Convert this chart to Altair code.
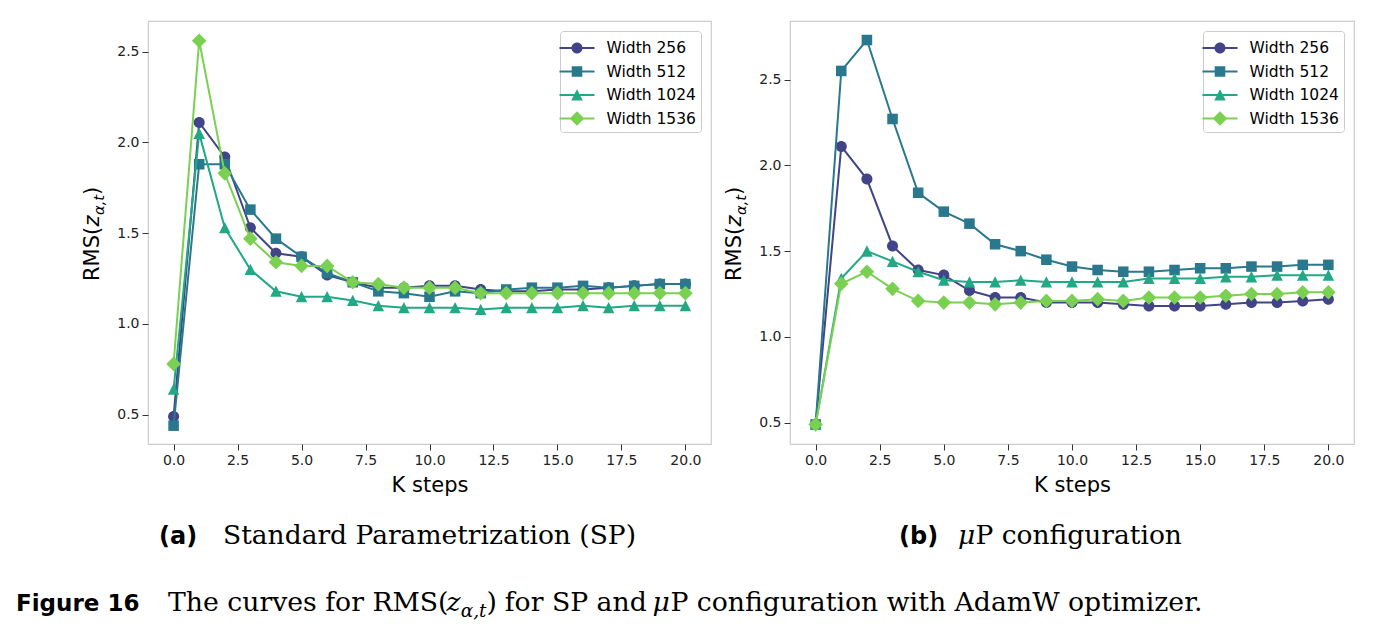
import altair as alt
import pandas as pd

# ---------------- data ----------------
steps = list(range(21))
series_names = ["Width 256", "Width 512", "Width 1024", "Width 1536"]
series_colors = ["#414487", "#2a788e", "#22a884", "#7ad151"]

# (a) Standard Parametrization (SP)
sp_256 = [0.49, 2.11, 1.92, 1.53, 1.39, 1.37, 1.27, 1.23, 1.20, 1.20, 1.21,
          1.21, 1.19, 1.18, 1.18, 1.19, 1.19, 1.20, 1.21, 1.22, 1.22]
sp_512 = [0.44, 1.88, 1.88, 1.63, 1.47, 1.37, 1.28, 1.23, 1.18, 1.17, 1.15,
          1.18, 1.17, 1.19, 1.20, 1.20, 1.21, 1.20, 1.21, 1.22, 1.22]
sp_1024 = [0.64, 2.05, 1.53, 1.30, 1.18, 1.15, 1.15, 1.13, 1.10, 1.09, 1.09,
           1.09, 1.08, 1.09, 1.09, 1.09, 1.10, 1.09, 1.10, 1.10, 1.10]
sp_1536 = [0.78, 2.56, 1.83, 1.47, 1.34, 1.32, 1.32, 1.23, 1.22, 1.20, 1.20,
           1.20, 1.17, 1.17, 1.17, 1.17, 1.17, 1.17, 1.17, 1.17, 1.17]

# (b) muP configuration
mup_256 = [0.49, 2.11, 1.92, 1.53, 1.39, 1.36, 1.27, 1.23, 1.23, 1.20, 1.20,
           1.20, 1.19, 1.18, 1.18, 1.18, 1.19, 1.20, 1.20, 1.21, 1.22]
mup_512 = [0.49, 2.55, 2.73, 2.27, 1.84, 1.73, 1.66, 1.54, 1.50, 1.45, 1.41,
           1.39, 1.38, 1.38, 1.39, 1.40, 1.40, 1.41, 1.41, 1.42, 1.42]
mup_1024 = [0.49, 1.34, 1.50, 1.44, 1.38, 1.33, 1.32, 1.32, 1.33, 1.32, 1.32,
            1.32, 1.32, 1.34, 1.34, 1.34, 1.35, 1.35, 1.36, 1.36, 1.36]
mup_1536 = [0.49, 1.31, 1.38, 1.28, 1.21, 1.20, 1.20, 1.19, 1.20, 1.21, 1.21,
            1.22, 1.21, 1.23, 1.23, 1.23, 1.24, 1.25, 1.25, 1.26, 1.26]

x_tick_values = [0, 2.5, 5, 7.5, 10, 12.5, 15, 17.5, 20]
y_tick_values = [0.5, 1.0, 1.5, 2.0, 2.5]


def long_table(series_lists):
    rows = []
    for name, vals in zip(series_names, series_lists):
        for k, v in zip(steps, vals):
            rows.append({"step": k, "rms": v, "series": name})
    return pd.DataFrame(rows)


sp_df = long_table([sp_256, sp_512, sp_1024, sp_1536])
mup_df = long_table([mup_256, mup_512, mup_1024, mup_1536])

# ---------------- marker shapes (unit = sqrt(size)/2 px) ----------------
CIRCLE = ("M0.46,0C0.46,0.254,0.254,0.46,0,0.46C-0.254,0.46,-0.46,0.254,-0.46,0"
          "C-0.46,-0.254,-0.254,-0.46,0,-0.46C0.254,-0.46,0.46,-0.254,0.46,0Z")
SQUARE = "M-0.44,-0.44H0.44V0.44H-0.44Z"
TRIANGLE = "M0,-0.48L0.48,0.46L-0.48,0.46Z"
DIAMOND = "M0,-0.61L0.61,0L0,0.61L-0.61,0Z"
marker_paths = [CIRCLE, SQUARE, TRIANGLE, DIAMOND]
BAR = "M-1.46,-0.085H1.46V0.085H-1.46Z"
legend_paths = [BAR + p for p in marker_paths]
SYM = 576

PW_L, PW_R, PH = 563, 564, 423


def txt(x, y, s, size, font="DejaVu Sans", style="normal", weight="normal",
        angle=0, align="left"):
    return alt.Chart(alt.Data(values=[{}])).mark_text(
        text=s, font=font, fontSize=size, fontStyle=style, fontWeight=weight,
        angle=angle, align=align, baseline="alphabetic", color="black"
    ).encode(x=alt.value(x), y=alt.value(y))


def ytitle():
    return [
        txt(-49, 260, "RMS(", 21, angle=270),
        txt(-49, 205.5, "z", 21, style="italic", angle=270),
        txt(-44.5, 194, "α,t", 14.7, style="italic", angle=270),
        txt(-49, 174, ")", 21, angle=270),
    ]


def panel(df, ydom, width, extra):
    x = alt.X("step:Q",
              scale=alt.Scale(domain=[-1, 21], nice=False, zero=False),
              axis=alt.Axis(values=x_tick_values, format=".1f", title="K steps",
                            labelFlush=False))
    y = alt.Y("rms:Q",
              scale=alt.Scale(domain=ydom, nice=False, zero=False),
              axis=alt.Axis(values=y_tick_values, format=".1f", title=None,
                            labelPadding=3))
    leg = alt.Legend(title=None, orient="top-right", offset=10, padding=5,
                     symbolSize=SYM, symbolOpacity=1, symbolStrokeWidth=0,
                     labelFont="DejaVu Sans", labelFontSize=15.5, labelColor="black",
                     labelOffset=17.5, rowPadding=2.5, strokeColor="#cccccc",
                     fillColor="white", cornerRadius=3)
    base = alt.Chart(df)
    layers = [
        base.mark_point(filled=True, opacity=0).encode(
            x=x, y=y,
            color=alt.Color("series:N",
                            scale=alt.Scale(domain=series_names, range=series_colors),
                            legend=leg),
            shape=alt.Shape("series:N",
                            scale=alt.Scale(domain=series_names, range=legend_paths),
                            legend=leg),
        )
    ]
    for name, col, mp in zip(series_names, series_colors, marker_paths):
        sub = base.transform_filter(alt.datum.series == name)
        layers.append(sub.mark_line(color=col, strokeWidth=2).encode(x=x, y=y))
        layers.append(sub.mark_point(filled=True, shape=mp, size=SYM, color=col,
                                     opacity=1, strokeWidth=0).encode(x=x, y=y))
    layers += ytitle() + extra
    return alt.layer(*layers).properties(width=width, height=PH)


SERIF = "DejaVu Serif"
CAP = 26.7
left_extra = [
    txt(11, 523, "(a)", 24, weight="bold"),
    txt(75, 523, "Standard Parametrization (SP)", 26.5, font=SERIF),
    # figure caption
    txt(-132, 590, "Figure 16", 23, weight="bold"),
    txt(20, 590, "The curves for RMS(", CAP, font=SERIF),
    txt(298.5, 590, "z", CAP, font=SERIF, style="italic"),
    txt(312.7, 596, "α,t", 18.5, font=SERIF, style="italic"),
    txt(338.4, 590, ")", CAP, font=SERIF),
    txt(356.7, 590, "for SP and", CAP, font=SERIF),
    txt(504.6, 590, "μ", CAP, font=SERIF, style="italic"),
    txt(522.4, 590, "P configuration with AdamW optimizer.", CAP, font=SERIF),
]
right_extra = [
    txt(109, 523, "(b)", 24, weight="bold"),
    txt(168, 523, "μ", 26.5, font=SERIF, style="italic"),
    txt(185.5, 523, "P configuration", 26.5, font=SERIF),
]

left = panel(sp_df, [0.339, 2.669], PW_L, left_extra)
right = panel(mup_df, [0.376, 2.841], PW_R, right_extra)

chart = alt.hconcat(left, right, spacing=79, bounds="flush").resolve_scale(
    color="independent", shape="independent"
).resolve_legend(
    color="independent", shape="independent"
).properties(
    padding={"left": 15, "top": 20, "right": 10, "bottom": 5},
    background="white",
).configure_view(
    stroke="#cccccc", strokeWidth=1.2
).configure_axis(
    domain=False, grid=False, tickColor="#333333", tickSize=6, tickWidth=1,
    labelFont="DejaVu Sans", labelFontSize=14, labelColor="#222222", labelPadding=3,
    titleFont="DejaVu Sans", titleFontSize=21, titleFontWeight="normal",
    titleColor="black", titlePadding=7,
)

chart.save("out.html", embed_options={"renderer": "svg", "actions": False})
